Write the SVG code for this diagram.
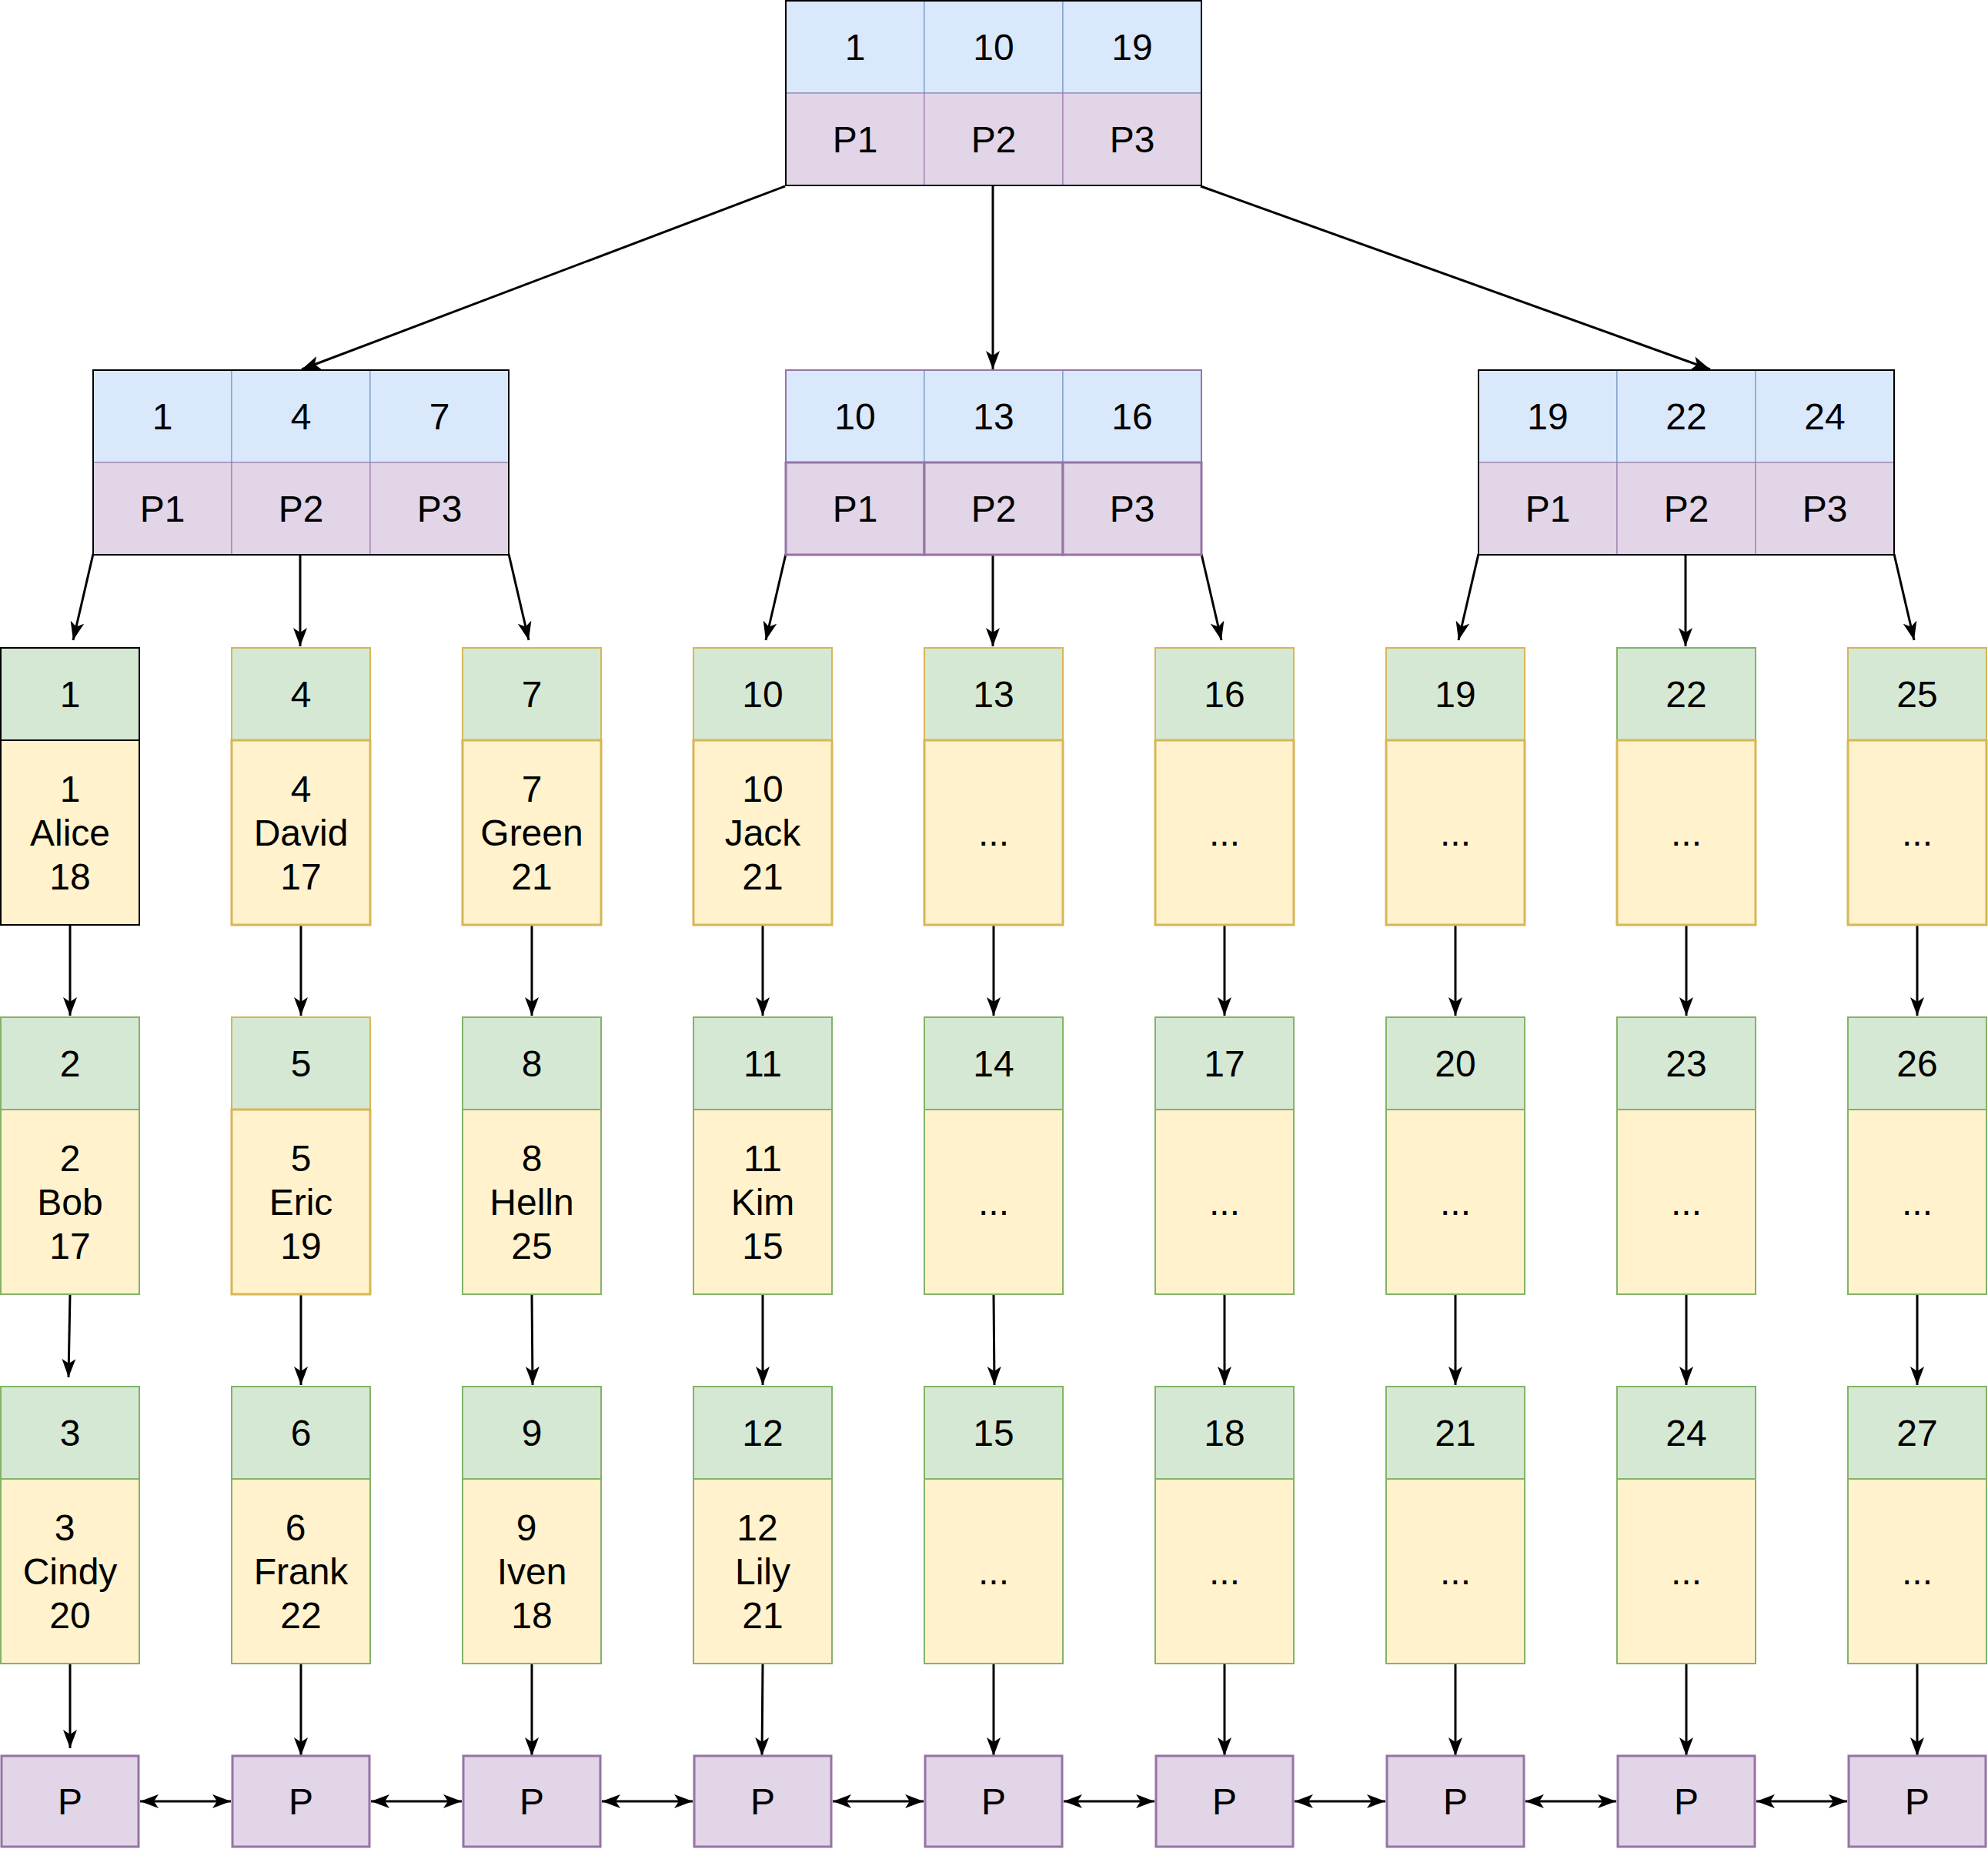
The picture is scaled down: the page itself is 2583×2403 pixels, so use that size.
<svg xmlns="http://www.w3.org/2000/svg" width="2583" height="2403" viewBox="0 0 2583 2403">
<style>
text{font-family:"Liberation Sans",Arial,sans-serif;font-size:48px;fill:#000;text-anchor:middle;dominant-baseline:central}
.b{fill:#dae8fc;stroke:#6c8ebf;stroke-width:1}
.p{fill:#e1d5e7;stroke:#9673a6;stroke-width:1}
.pb{fill:#e1d5e7;stroke:#9673a6;stroke-width:3}
.g{fill:#d5e8d4;stroke:#82b366;stroke-width:2}
.y{fill:#fff2cc;stroke:#82b366;stroke-width:2}
.yy{fill:#fff2cc;stroke:#d6b656;stroke-width:3}
.gy{fill:#d5e8d4;stroke:#d6b656;stroke-width:2}
.gk{fill:#d5e8d4;stroke:#000;stroke-width:2}
.yk{fill:#fff2cc;stroke:#000;stroke-width:2}
.o{fill:none;stroke:#000;stroke-width:2}
.e{fill:none;stroke:#000;stroke-width:3}
</style>
<defs>
<marker id="a" viewBox="0 0 24 18" refX="24" refY="9" markerWidth="24" markerHeight="18" markerUnits="userSpaceOnUse" orient="auto-start-reverse"><path d="M0,0 L24,9 L0,18 L6,9 z" fill="#000"/></marker>
</defs>
<g id="connectors" class="e">
<line class="e" x1="1020" y1="242" x2="392" y2="480" marker-end="url(#a)"/>
<line class="e" x1="1290" y1="242" x2="1290" y2="480" marker-end="url(#a)"/>
<line class="e" x1="1560" y1="242" x2="2222" y2="480" marker-end="url(#a)"/>
<line class="e" x1="121" y1="720" x2="95" y2="832" marker-end="url(#a)"/>
<line class="e" x1="390" y1="720" x2="390" y2="840" marker-end="url(#a)"/>
<line class="e" x1="661" y1="720" x2="687" y2="832" marker-end="url(#a)"/>
<line class="e" x1="1021" y1="720" x2="995" y2="832" marker-end="url(#a)"/>
<line class="e" x1="1290" y1="720" x2="1290" y2="840" marker-end="url(#a)"/>
<line class="e" x1="1561" y1="720" x2="1587" y2="832" marker-end="url(#a)"/>
<line class="e" x1="1921" y1="720" x2="1895" y2="832" marker-end="url(#a)"/>
<line class="e" x1="2190" y1="720" x2="2190" y2="840" marker-end="url(#a)"/>
<line class="e" x1="2461" y1="720" x2="2487" y2="832" marker-end="url(#a)"/>
<path class="e" marker-end="url(#a)" d="M91,1202 L91,1320"/>
<path class="e" marker-end="url(#a)" d="M391,1202 L391,1320"/>
<path class="e" marker-end="url(#a)" d="M691,1202 L691,1320"/>
<path class="e" marker-end="url(#a)" d="M991,1202 L991,1320"/>
<path class="e" marker-end="url(#a)" d="M1291,1202 L1291,1320"/>
<path class="e" marker-end="url(#a)" d="M1591,1202 L1591,1320"/>
<path class="e" marker-end="url(#a)" d="M1891,1202 L1891,1320"/>
<path class="e" marker-end="url(#a)" d="M2191,1202 L2191,1320"/>
<path class="e" marker-end="url(#a)" d="M2491,1202 L2491,1320"/>
<path class="e" marker-end="url(#a)" d="M91,1682 L89,1790"/>
<path class="e" marker-end="url(#a)" d="M391,1682 L391,1800"/>
<path class="e" marker-end="url(#a)" d="M691,1682 L692,1800"/>
<path class="e" marker-end="url(#a)" d="M991,1682 L991,1800"/>
<path class="e" marker-end="url(#a)" d="M1291,1682 L1292,1800"/>
<path class="e" marker-end="url(#a)" d="M1591,1682 L1591,1800"/>
<path class="e" marker-end="url(#a)" d="M1891,1682 L1891,1800"/>
<path class="e" marker-end="url(#a)" d="M2191,1682 L2191,1800"/>
<path class="e" marker-end="url(#a)" d="M2491,1682 L2491,1800"/>
<path class="e" marker-end="url(#a)" d="M91,2162 L91,2272"/>
<path class="e" marker-end="url(#a)" d="M391,2162 L391,2282"/>
<path class="e" marker-end="url(#a)" d="M691,2162 L691,2282"/>
<path class="e" marker-end="url(#a)" d="M991,2162 L990,2282"/>
<path class="e" marker-end="url(#a)" d="M1291,2162 L1291,2282"/>
<path class="e" marker-end="url(#a)" d="M1591,2162 L1591,2282"/>
<path class="e" marker-end="url(#a)" d="M1891,2162 L1891,2282"/>
<path class="e" marker-end="url(#a)" d="M2191,2162 L2191,2282"/>
<path class="e" marker-end="url(#a)" d="M2491,2162 L2491,2282"/>
<path class="e" marker-start="url(#a)" marker-end="url(#a)" d="M182,2341 L300,2341"/>
<path class="e" marker-start="url(#a)" marker-end="url(#a)" d="M482,2341 L600,2341"/>
<path class="e" marker-start="url(#a)" marker-end="url(#a)" d="M782,2341 L900,2341"/>
<path class="e" marker-start="url(#a)" marker-end="url(#a)" d="M1082,2341 L1200,2341"/>
<path class="e" marker-start="url(#a)" marker-end="url(#a)" d="M1382,2341 L1500,2341"/>
<path class="e" marker-start="url(#a)" marker-end="url(#a)" d="M1682,2341 L1800,2341"/>
<path class="e" marker-start="url(#a)" marker-end="url(#a)" d="M1982,2341 L2100,2341"/>
<path class="e" marker-start="url(#a)" marker-end="url(#a)" d="M2282,2341 L2400,2341"/>
</g>
<g id="root">
<rect class="b" x="1021" y="1" width="180" height="120"/><rect class="b" x="1201" y="1" width="180" height="120"/><rect class="b" x="1381" y="1" width="180" height="120"/>
<rect class="p" x="1021" y="121" width="180" height="120"/><rect class="p" x="1201" y="121" width="180" height="120"/><rect class="p" x="1381" y="121" width="180" height="120"/>
<rect class="o" x="1021" y="1" width="540" height="240"/>
<text x="1111" y="61">1</text><text x="1291" y="61">10</text><text x="1471" y="61">19</text>
<text x="1111" y="181">P1</text><text x="1291" y="181">P2</text><text x="1471" y="181">P3</text>
</g>
<g id="inner-left">
<rect class="b" x="121" y="481" width="180" height="120"/><rect class="b" x="301" y="481" width="180" height="120"/><rect class="b" x="481" y="481" width="180" height="120"/>
<rect class="p" x="121" y="601" width="180" height="120"/><rect class="p" x="301" y="601" width="180" height="120"/><rect class="p" x="481" y="601" width="180" height="120"/>
<rect class="o" x="121" y="481" width="540" height="240"/>
<text x="211" y="541">1</text><text x="391" y="541">4</text><text x="571" y="541">7</text>
<text x="211" y="661">P1</text><text x="391" y="661">P2</text><text x="571" y="661">P3</text>
</g>
<g id="inner-mid">
<rect class="b" x="1021" y="481" width="180" height="120"/><rect class="b" x="1201" y="481" width="180" height="120"/><rect class="b" x="1381" y="481" width="180" height="120"/>
<rect class="pb" x="1021" y="601" width="180" height="120"/><rect class="pb" x="1201" y="601" width="180" height="120"/><rect class="pb" x="1381" y="601" width="180" height="120"/>
<rect fill="none" stroke="#9673a6" stroke-width="2" x="1021" y="481" width="540" height="240"/>
<text x="1111" y="541">10</text><text x="1291" y="541">13</text><text x="1471" y="541">16</text>
<text x="1111" y="661">P1</text><text x="1291" y="661">P2</text><text x="1471" y="661">P3</text>
</g>
<g id="inner-right">
<rect class="b" x="1921" y="481" width="180" height="120"/><rect class="b" x="2101" y="481" width="180" height="120"/><rect class="b" x="2281" y="481" width="180" height="120"/>
<rect class="p" x="1921" y="601" width="180" height="120"/><rect class="p" x="2101" y="601" width="180" height="120"/><rect class="p" x="2281" y="601" width="180" height="120"/>
<rect class="o" x="1921" y="481" width="540" height="240"/>
<text x="2011" y="541">19</text><text x="2191" y="541">22</text><text x="2371" y="541">24</text>
<text x="2011" y="661">P1</text><text x="2191" y="661">P2</text><text x="2371" y="661">P3</text>
</g>
<g id="leaf-1"><rect class="gk" x="1" y="842" width="180" height="120"/><rect class="yk" x="1" y="962" width="180" height="240"/><text x="91" y="902">1</text><text x="91" y="1025">1</text><text x="91" y="1082">Alice</text><text x="91" y="1139">18</text></g>
<g id="leaf-4"><rect class="gy" x="301" y="842" width="180" height="120"/><rect class="yy" x="301" y="962" width="180" height="240"/><text x="391" y="902">4</text><text x="391" y="1025">4</text><text x="391" y="1082">David</text><text x="391" y="1139">17</text></g>
<g id="leaf-7"><rect class="gy" x="601" y="842" width="180" height="120"/><rect class="yy" x="601" y="962" width="180" height="240"/><text x="691" y="902">7</text><text x="691" y="1025">7</text><text x="691" y="1082">Green</text><text x="691" y="1139">21</text></g>
<g id="leaf-10"><rect class="gy" x="901" y="842" width="180" height="120"/><rect class="yy" x="901" y="962" width="180" height="240"/><text x="991" y="902">10</text><text x="991" y="1025">10</text><text x="991" y="1082">Jack</text><text x="991" y="1139">21</text></g>
<g id="leaf-13"><rect class="gy" x="1201" y="842" width="180" height="120"/><rect class="yy" x="1201" y="962" width="180" height="240"/><text x="1291" y="902">13</text><text x="1291" y="1082">...</text></g>
<g id="leaf-16"><rect class="gy" x="1501" y="842" width="180" height="120"/><rect class="yy" x="1501" y="962" width="180" height="240"/><text x="1591" y="902">16</text><text x="1591" y="1082">...</text></g>
<g id="leaf-19"><rect class="gy" x="1801" y="842" width="180" height="120"/><rect class="yy" x="1801" y="962" width="180" height="240"/><text x="1891" y="902">19</text><text x="1891" y="1082">...</text></g>
<g id="leaf-22"><rect class="g" x="2101" y="842" width="180" height="120"/><rect class="yy" x="2101" y="962" width="180" height="240"/><text x="2191" y="902">22</text><text x="2191" y="1082">...</text></g>
<g id="leaf-25"><rect class="gy" x="2401" y="842" width="180" height="120"/><rect class="yy" x="2401" y="962" width="180" height="240"/><text x="2491" y="902">25</text><text x="2491" y="1082">...</text></g>
<g id="leaf-2"><rect class="g" x="1" y="1322" width="180" height="120"/><rect class="y" x="1" y="1442" width="180" height="240"/><text x="91" y="1382">2</text><text x="91" y="1505">2</text><text x="91" y="1562">Bob</text><text x="91" y="1619">17</text></g>
<g id="leaf-5"><rect class="gy" x="301" y="1322" width="180" height="120"/><rect class="yy" x="301" y="1442" width="180" height="240"/><text x="391" y="1382">5</text><text x="391" y="1505">5</text><text x="391" y="1562">Eric</text><text x="391" y="1619">19</text></g>
<g id="leaf-8"><rect class="g" x="601" y="1322" width="180" height="120"/><rect class="y" x="601" y="1442" width="180" height="240"/><text x="691" y="1382">8</text><text x="691" y="1505">8</text><text x="691" y="1562">Helln</text><text x="691" y="1619">25</text></g>
<g id="leaf-11"><rect class="g" x="901" y="1322" width="180" height="120"/><rect class="y" x="901" y="1442" width="180" height="240"/><text x="991" y="1382">11</text><text x="991" y="1505">11</text><text x="991" y="1562">Kim</text><text x="991" y="1619">15</text></g>
<g id="leaf-14"><rect class="g" x="1201" y="1322" width="180" height="120"/><rect class="y" x="1201" y="1442" width="180" height="240"/><text x="1291" y="1382">14</text><text x="1291" y="1562">...</text></g>
<g id="leaf-17"><rect class="g" x="1501" y="1322" width="180" height="120"/><rect class="y" x="1501" y="1442" width="180" height="240"/><text x="1591" y="1382">17</text><text x="1591" y="1562">...</text></g>
<g id="leaf-20"><rect class="g" x="1801" y="1322" width="180" height="120"/><rect class="y" x="1801" y="1442" width="180" height="240"/><text x="1891" y="1382">20</text><text x="1891" y="1562">...</text></g>
<g id="leaf-23"><rect class="g" x="2101" y="1322" width="180" height="120"/><rect class="y" x="2101" y="1442" width="180" height="240"/><text x="2191" y="1382">23</text><text x="2191" y="1562">...</text></g>
<g id="leaf-26"><rect class="g" x="2401" y="1322" width="180" height="120"/><rect class="y" x="2401" y="1442" width="180" height="240"/><text x="2491" y="1382">26</text><text x="2491" y="1562">...</text></g>
<g id="leaf-3"><rect class="g" x="1" y="1802" width="180" height="120"/><rect class="y" x="1" y="1922" width="180" height="240"/><text x="91" y="1862">3</text><text x="84" y="1985">3</text><text x="91" y="2042">Cindy</text><text x="91" y="2099">20</text></g>
<g id="leaf-6"><rect class="g" x="301" y="1802" width="180" height="120"/><rect class="y" x="301" y="1922" width="180" height="240"/><text x="391" y="1862">6</text><text x="384" y="1985">6</text><text x="391" y="2042">Frank</text><text x="391" y="2099">22</text></g>
<g id="leaf-9"><rect class="g" x="601" y="1802" width="180" height="120"/><rect class="y" x="601" y="1922" width="180" height="240"/><text x="691" y="1862">9</text><text x="684" y="1985">9</text><text x="691" y="2042">Iven</text><text x="691" y="2099">18</text></g>
<g id="leaf-12"><rect class="g" x="901" y="1802" width="180" height="120"/><rect class="y" x="901" y="1922" width="180" height="240"/><text x="991" y="1862">12</text><text x="984" y="1985">12</text><text x="991" y="2042">Lily</text><text x="991" y="2099">21</text></g>
<g id="leaf-15"><rect class="g" x="1201" y="1802" width="180" height="120"/><rect class="y" x="1201" y="1922" width="180" height="240"/><text x="1291" y="1862">15</text><text x="1291" y="2042">...</text></g>
<g id="leaf-18"><rect class="g" x="1501" y="1802" width="180" height="120"/><rect class="y" x="1501" y="1922" width="180" height="240"/><text x="1591" y="1862">18</text><text x="1591" y="2042">...</text></g>
<g id="leaf-21"><rect class="g" x="1801" y="1802" width="180" height="120"/><rect class="y" x="1801" y="1922" width="180" height="240"/><text x="1891" y="1862">21</text><text x="1891" y="2042">...</text></g>
<g id="leaf-24"><rect class="g" x="2101" y="1802" width="180" height="120"/><rect class="y" x="2101" y="1922" width="180" height="240"/><text x="2191" y="1862">24</text><text x="2191" y="2042">...</text></g>
<g id="leaf-27"><rect class="g" x="2401" y="1802" width="180" height="120"/><rect class="y" x="2401" y="1922" width="180" height="240"/><text x="2491" y="1862">27</text><text x="2491" y="2042">...</text></g>
<g id="page-1"><rect class="pb" x="2" y="2282" width="178" height="118"/><text x="91" y="2341">P</text></g>
<g id="page-2"><rect class="pb" x="302" y="2282" width="178" height="118"/><text x="391" y="2341">P</text></g>
<g id="page-3"><rect class="pb" x="602" y="2282" width="178" height="118"/><text x="691" y="2341">P</text></g>
<g id="page-4"><rect class="pb" x="902" y="2282" width="178" height="118"/><text x="991" y="2341">P</text></g>
<g id="page-5"><rect class="pb" x="1202" y="2282" width="178" height="118"/><text x="1291" y="2341">P</text></g>
<g id="page-6"><rect class="pb" x="1502" y="2282" width="178" height="118"/><text x="1591" y="2341">P</text></g>
<g id="page-7"><rect class="pb" x="1802" y="2282" width="178" height="118"/><text x="1891" y="2341">P</text></g>
<g id="page-8"><rect class="pb" x="2102" y="2282" width="178" height="118"/><text x="2191" y="2341">P</text></g>
<g id="page-9"><rect class="pb" x="2402" y="2282" width="178" height="118"/><text x="2491" y="2341">P</text></g>
</svg>
